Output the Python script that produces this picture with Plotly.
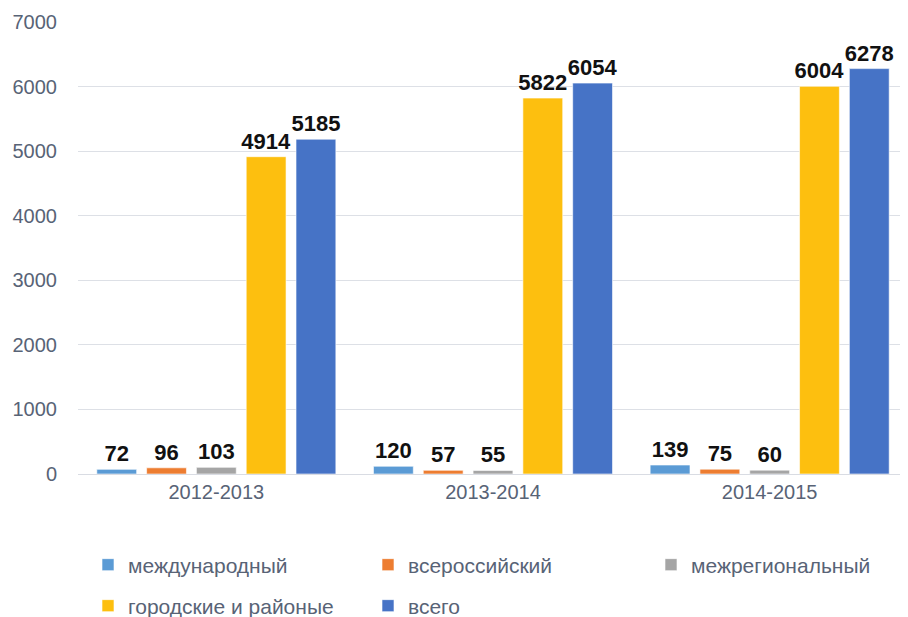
import plotly.graph_objects as go

categories = ["2012-2013", "2013-2014", "2014-2015"]
series_names = ["международный", "всероссийский", "межрегиональный", "городские и районые", "всего"]
intl = [72, 120, 139]
allrus = [96, 57, 75]
interreg = [103, 55, 60]
city = [4914, 5822, 6004]
total = [5185, 6054, 6278]
colors = ["#5B9BD5", "#ED7D31", "#A5A5A5", "#FDBF0F", "#4673C6"]
legend_ids = ["legend", "legend", "legend3", "legend2", "legend2"]

font_family = "Liberation Sans, Arial, sans-serif"
text_color = "#586376"

fig = go.Figure()
for name, vals, col, lg in zip(series_names, [intl, allrus, interreg, city, total], colors, legend_ids):
    fig.add_trace(go.Bar(
        x=categories, y=vals, name=name, legend=lg,
        marker=dict(color=col, line=dict(width=1, color="rgba(255,255,255,0.6)")),
        text=[str(v) for v in vals], textposition="outside",
        textfont=dict(family=font_family, size=22, color="#111111", weight="bold"),
        constraintext="none",
        cliponaxis=False,
    ))

# page body has an 8px margin, so the figure is shifted by 8px
W, H = 900, 609
L, T, PH, PW = 70, 14, 452, 830
B = H - T - PH
bottom = T + PH

legend_common = dict(
    orientation="h", xanchor="left", yanchor="middle",
    entrywidth=235, entrywidthmode="pixels",
    font=dict(size=21, color=text_color),
    itemwidth=30, bgcolor="rgba(0,0,0,0)",
)

fig.update_layout(
    width=W, height=H,
    margin=dict(l=L, r=0, t=T, b=B, autoexpand=False),
    paper_bgcolor="white", plot_bgcolor="white",
    barmode="group", bargap=0.1, bargroupgap=0.2,
    font=dict(family=font_family, color=text_color),
    showlegend=True,
    legend=dict(x=10 / PW, y=(bottom - 557) / PH, **legend_common),
    legend3=dict(x=(671 - 78 - 20) / PW, y=(bottom - 557) / PH, **legend_common),
    legend2=dict(x=10 / PW, y=(bottom - 598) / PH, **legend_common),
    uniformtext=dict(mode=False),
)
fig.update_xaxes(
    showline=True, linecolor="#D9DCE3", linewidth=1,
    ticks="", tickfont=dict(size=20, color=text_color),
    showgrid=False, automargin=False,
)
fig.update_yaxes(
    range=[0, 7000], dtick=1000, tickformat="d",
    showgrid=True, gridcolor="#DDE0E6", gridwidth=1,
    zeroline=False, showline=False,
    tickfont=dict(size=20, color=text_color),
    ticklabelstandoff=20, automargin=False,
)

fig.write_html("out.html")
